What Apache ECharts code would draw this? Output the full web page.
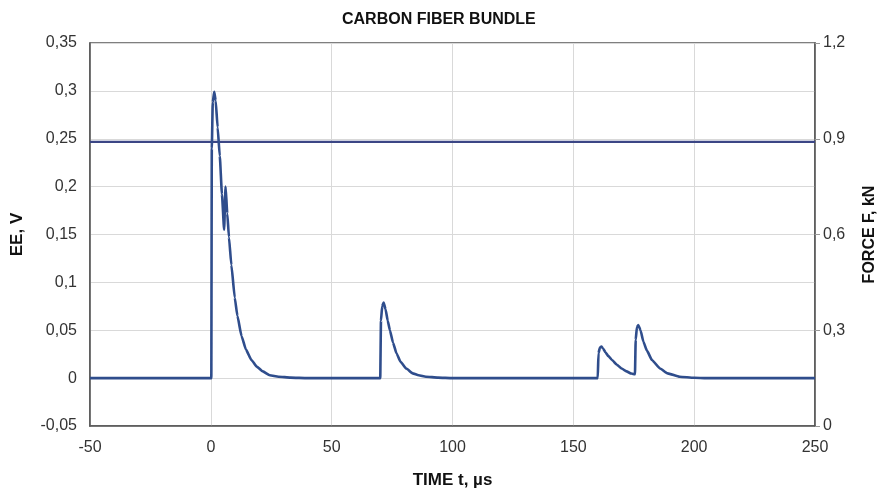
<!DOCTYPE html>
<html>
<head>
<meta charset="utf-8">
<script src="https://cdn.jsdelivr.net/npm/echarts@6/dist/echarts.min.js"></script>
<style>
html,body{margin:0;padding:0;background:#fff;overflow:hidden;}
#chart{width:880px;height:495px;}
</style>
</head>
<body>
<div id="chart"></div>
<script>
// Time (µs) and EE signal (V)
var eeTimes = [-50, 0.2, 0.4, 0.8, 1.4, 2.0, 2.8, 3.7, 4.6, 5.5, 6.1, 6.8, 7.5, 8.5, 9.9, 11, 12.7, 14.5, 16.8, 19, 21.5, 24.4, 28, 33, 40,
  70.1, 70.4, 70.9, 71.5, 72.3, 73.2, 74.1, 75.4, 76.8, 78.5, 80.9, 83.5, 86, 89, 94, 100,
  160.1, 160.4, 161, 161.6, 162.3, 163.3, 164.5, 166, 168, 170, 172, 174, 175.5, 175.8, 176.3, 176.9, 177.8, 179, 180.4, 182.5, 185.9, 189, 194, 200, 205, 250];
var eeValues = [0, 0, 0.24, 0.288, 0.299, 0.29, 0.262, 0.232, 0.192, 0.155, 0.2, 0.172, 0.147, 0.118, 0.084, 0.065, 0.044, 0.03, 0.019, 0.012, 0.007, 0.003, 0.0015, 0.0005, 0,
  0, 0.06, 0.075, 0.079, 0.072, 0.06, 0.05, 0.037, 0.026, 0.017, 0.01, 0.005, 0.003, 0.0015, 0.0005, 0,
  0, 0.026, 0.032, 0.033, 0.031, 0.027, 0.023, 0.019, 0.014, 0.010, 0.007, 0.0048, 0.004, 0.04, 0.053, 0.0555, 0.05, 0.038, 0.029, 0.019, 0.010, 0.005, 0.0015, 0.0004, 0, 0];
// Force (kN)
var forceTimes = [-50, 250];
var forceValues = [0.89, 0.89];

var titleText = 'CARBON FIBER BUNDLE';
var xName = 'TIME t, µs';
var yLeftName = 'EE, V';
var yRightName = 'FORCE F, kN';

function pairs(xs, ys){ return xs.map(function(x,i){ return [x, ys[i]]; }); }
function comma(v){ return String(+(+v).toFixed(2)).replace('.', ','); }

var font = '"Liberation Sans", Arial, sans-serif';
var chart = echarts.init(document.getElementById('chart'), null, {renderer:'canvas'});
chart.setOption({
  animation: false,
  backgroundColor: '#fff',
  title: {
    text: titleText, left: 337, top: 7,
    textStyle: {fontFamily: font, fontSize: 16, fontWeight: 'bold', color: '#111'}
  },
  grid: {left: 90, right: 65, top: 43, bottom: 69, show: true, borderColor: '#555', borderWidth: 1.5,
         containLabel: false, outerBoundsMode: 'none'},
  xAxis: {
    type: 'value', min: -50, max: 250, interval: 50,
    name: xName, nameLocation: 'middle', nameGap: 46,
    nameTextStyle: {fontFamily: font, fontSize: 17, fontWeight: 'bold', color: '#111'},
    axisLine: {show: true, onZero: false, lineStyle: {color: '#555', width: 1.5}},
    axisTick: {show: false},
    axisLabel: {fontFamily: font, fontSize: 16, color: '#333', margin: 14},
    splitLine: {show: true, lineStyle: {color: '#d9d9d9', width: 1}}
  },
  yAxis: [{
    type: 'value', position: 'left', min: -0.05, max: 0.35, interval: 0.05,
    name: yLeftName, nameLocation: 'middle', nameGap: 64, nameRotate: 90,
    nameTextStyle: {fontFamily: font, fontSize: 17, fontWeight: 'bold', color: '#111'},
    axisLine: {show: true, onZero: false, lineStyle: {color: '#555', width: 1.5}},
    axisTick: {show: false},
    axisLabel: {fontFamily: font, fontSize: 16, color: '#333', margin: 13, formatter: comma},
    splitLine: {show: true, lineStyle: {color: '#d9d9d9', width: 1}}
  }, {
    type: 'value', position: 'right', min: 0, max: 1.2, interval: 0.3,
    name: yRightName, nameLocation: 'middle', nameGap: 47, nameRotate: 90,
    nameTextStyle: {fontFamily: font, fontSize: 16, fontWeight: 'bold', color: '#111'},
    axisLine: {show: true, onZero: false, lineStyle: {color: '#555', width: 1.5}},
    axisTick: {show: true, length: 5, lineStyle: {color: '#999'}},
    axisLabel: {fontFamily: font, fontSize: 16, color: '#333', margin: 8, formatter: comma},
    splitLine: {show: false}
  }],
  series: [{
    name: 'Force', type: 'line', yAxisIndex: 1, data: pairs(forceTimes, forceValues),
    showSymbol: false, symbol: 'none',
    lineStyle: {color: '#3b4685', width: 2.2}
  }, {
    name: 'EE', type: 'line', yAxisIndex: 0, data: pairs(eeTimes, eeValues),
    showSymbol: false, symbol: 'none', smooth: 0.15, smoothMonotone: 'x',
    lineStyle: {color: '#2f4d8c', width: 2.6}
  }]
});
</script>
</body>
</html>
